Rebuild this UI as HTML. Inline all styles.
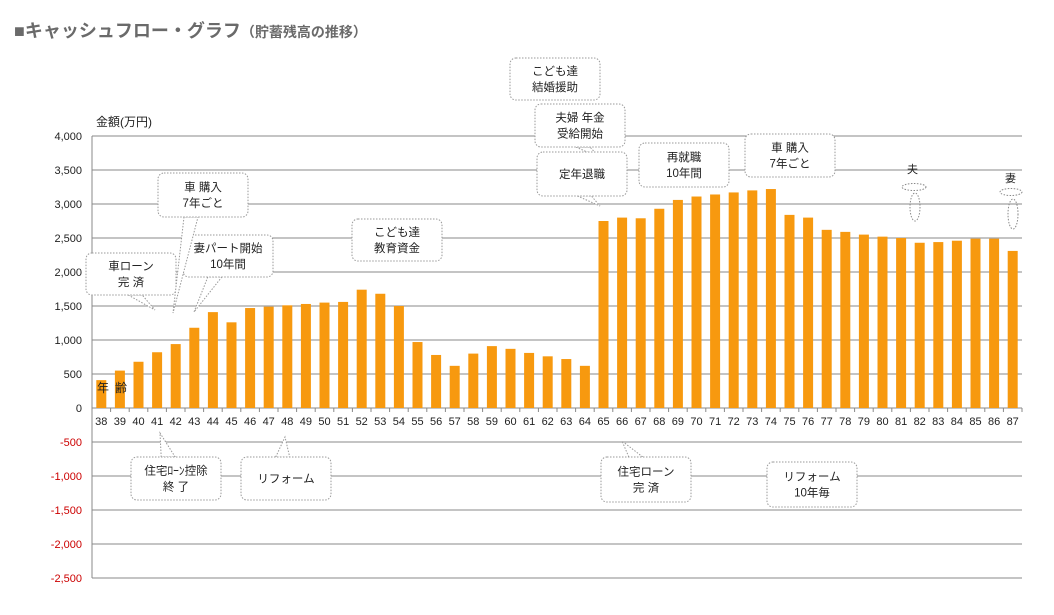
<!DOCTYPE html>
<html><head><meta charset="utf-8"><style>
body{margin:0;background:#fff;}
svg{display:block;font-family:"Liberation Sans","Noto Sans CJK JP",sans-serif;}
</style></head><body>
<svg width="1054" height="615" viewBox="0 0 1054 615" xmlns="http://www.w3.org/2000/svg">
<text x="14" y="37" font-size="18" font-weight="bold" fill="#6a6a6a">■キャッシュフロー・グラフ<tspan font-size="14">（貯蓄残高の推移）</tspan></text>
<text x="96" y="126" font-size="12" fill="#222">金額(万円)</text>
<g id="grid" stroke="#888" stroke-width="1"></g>
<g id="bars" fill="#f7990f"></g>
<g id="labels" font-size="11" fill="#222"></g>
<g fill="#fff" stroke="#999" stroke-dasharray="1.5,1.5" font-size="11.5" id="callouts"></g>
<text x="97" y="392" font-size="12" fill="#222">年</text><text x="115" y="392" font-size="12" fill="#222">齢</text>
<text x="907" y="173" font-size="11" fill="#222">夫</text>
<text x="1005" y="182" font-size="11" fill="#222">妻</text>
<g fill="none" stroke="#888" stroke-dasharray="1.5,1.5">
<ellipse cx="914" cy="187" rx="12" ry="3.5"/><ellipse cx="915" cy="207" rx="5" ry="14"/>
<ellipse cx="1011" cy="192" rx="11" ry="3.5"/><ellipse cx="1013" cy="214" rx="5" ry="15"/>
</g>
</svg>
<script>
var ns="http://www.w3.org/2000/svg";
function el(p,t,a,txt){var e=document.createElementNS(ns,t);for(var k in a)e.setAttribute(k,a[k]);if(txt!=null)e.textContent=txt;p.appendChild(e);return e;}
var g=document.getElementById('grid'),b=document.getElementById('bars'),l=document.getElementById('labels'),c=document.getElementById('callouts');
var L=92,R=1022,Y0=408,k=34/500;
for(var v=-2500;v<=4000;v+=500){var y=Y0-v*k;
 if(v!=0)el(g,'line',{x1:L,x2:R,y1:y,y2:y});
 var s=Math.abs(v).toString().replace(/\B(?=(\d{3})+$)/g,',');if(v<0)s='-'+s;
 el(l,'text',{x:82,y:y+4,'text-anchor':'end',fill:v<0?'#c00':'#222'},s);}
var vals=[410,550,680,820,940,1180,1410,1260,1470,1490,1510,1530,1550,1560,1740,1680,1500,970,780,620,800,910,870,810,760,720,620,2750,2800,2790,2930,3060,3110,3140,3170,3200,3220,2840,2800,2620,2590,2550,2520,2500,2430,2440,2460,2490,2490,2310];
var w=(R-L)/50;
vals.forEach(function(v,i){var cx=L+w*(i+0.5);
 el(b,'rect',{x:cx-5,y:Y0-v*k,width:10,height:v*k});
 el(l,'text',{x:cx,y:425,'text-anchor':'middle'},38+i);
 el(g,'line',{x1:L+w*i,x2:L+w*i,y1:Y0,y2:Y0+4});});
el(g,'line',{x1:L,x2:R,y1:Y0,y2:Y0});
el(g,'line',{x1:L,x2:L,y1:136,y2:578});
el(g,'line',{x1:R,x2:R,y1:Y0,y2:Y0+4});
function co(x,y,w,h,lines,tx,ty){
 var bx=x+w/2;
 var tail = ty>y ? [[bx-10+ (tx-bx)*0.3,y+h],[tx,ty],[bx+4+(tx-bx)*0.3,y+h]] : [[bx-10+(tx-bx)*0.3,y],[tx,ty],[bx+4+(tx-bx)*0.3,y]];
 if(tx!=null) el(c,'polygon',{points:tail.map(function(p){return p.join(',')}).join(' ')});
 el(c,'rect',{x:x,y:y,width:w,height:h,rx:6});
 lines.forEach(function(t,i){el(c,'text',{x:x+w/2,y:y+h/2+4+(i-(lines.length-1)/2)*16,'text-anchor':'middle',fill:'#222',stroke:'none'},t);});
}
co(86,253,90,42,['車ローン','完 済'],155,310);
co(183,235,90,42,['妻パート開始','10年間'],194,312);
co(158,173,90,44,['車 購入','7年ごと'],173,313);
co(352,219,90,42,['こども達','教育資金']);
co(510,58,90,42,['こども達','結婚援助']);
co(535,104,90,43,['夫婦 年金','受給開始'],600,158);
co(537,152,90,44,['定年退職'],600,206);
co(639,143,90,44,['再就職','10年間']);
co(745,134,90,43,['車 購入','7年ごと']);
co(131,457,90,43,['住宅ﾛｰﾝ控除','終 了'],160,433);
co(241,457,90,43,['リフォーム'],285,437);
co(601,457,90,45,['住宅ローン','完 済'],622,441);
co(767,462,90,45,['リフォーム','10年毎']);
</script>
</body></html>
